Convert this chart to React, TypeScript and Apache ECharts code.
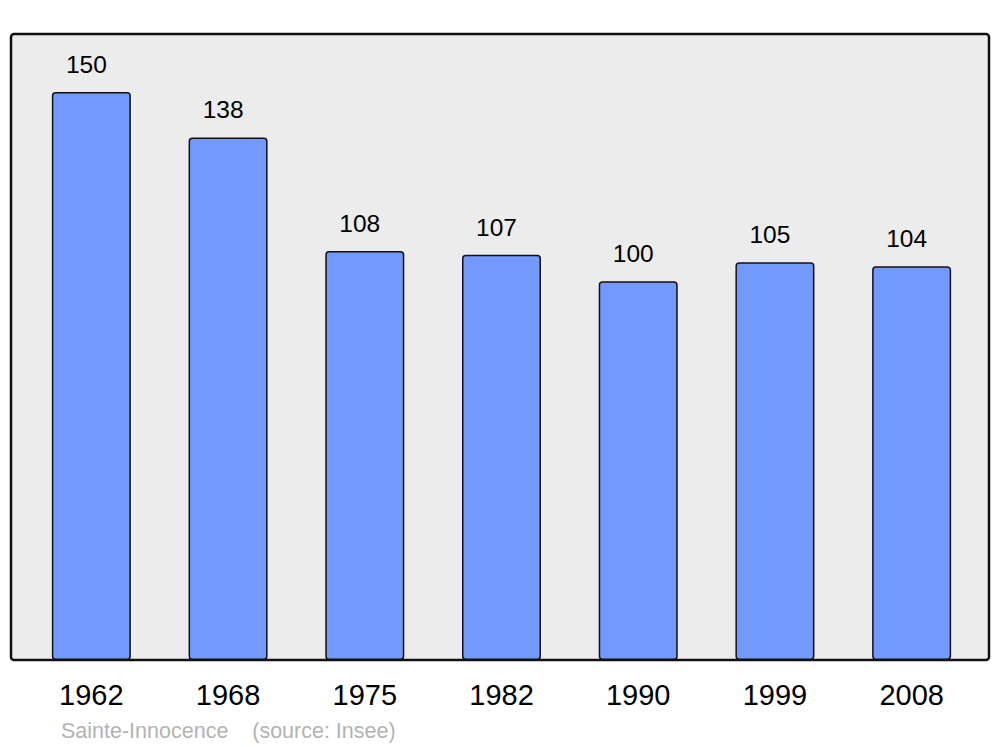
import React, { useEffect, useRef } from "react";
import * as echarts from "echarts";

const years = ["1962", "1968", "1975", "1982", "1990", "1999", "2008"];
const population = [150, 138, 108, 107, 100, 105, 104];
const sourceText = "Sainte-Innocence    (source: Insee)";

export default function App() {
  const ref = useRef<HTMLDivElement>(null);
  useEffect(() => {
    const chart = echarts.init(ref.current!, null, { renderer: "svg" });
    chart.setOption({
      animation: false,
      backgroundColor: "#ffffff",
      textStyle: { fontFamily: "Liberation Sans, Arial, sans-serif" },
      graphic: [
        {
          type: "rect",
          z: -10,
          shape: { x: 11, y: 34, width: 978, height: 626, r: 3 },
          style: { fill: "#ECECEC", stroke: "#111111", lineWidth: 2.5 },
        },
        {
          type: "text",
          left: 61,
          top: 720,
          style: {
            text: sourceText,
            fill: "#B3B3B3",
            font: "21.5px 'Liberation Sans', Arial, sans-serif",
          },
        },
      ],
      grid: { left: 23, right: 20, top: 34, bottom: 87 },
      xAxis: {
        type: "category",
        data: years,
        axisLine: { show: false },
        axisTick: { show: false },
        axisLabel: {
          color: "#000",
          fontSize: 29,
          margin: 20,
          fontFamily: "Liberation Sans, Arial, sans-serif",
        },
      },
      yAxis: {
        type: "value",
        min: 0,
        max: 165.3,
        show: false,
        splitLine: { show: false },
      },
      series: [
        {
          type: "bar",
          data: population,
          barWidth: 79,
          itemStyle: {
            color: "#7399FF",
            borderColor: "#111111",
            borderWidth: 1.5,
            borderRadius: 3,
          },
          label: {
            show: true,
            position: "top",
            distance: 15,
            offset: [-5, 0],
            color: "#000",
            fontSize: 24.5,
            fontFamily: "Liberation Sans, Arial, sans-serif",
          },
        },
      ],
    });
    return () => chart.dispose();
  }, []);
  return <div ref={ref} style={{ width: 1000, height: 747, position: "absolute", left: 0, top: 0 }} />;
}
